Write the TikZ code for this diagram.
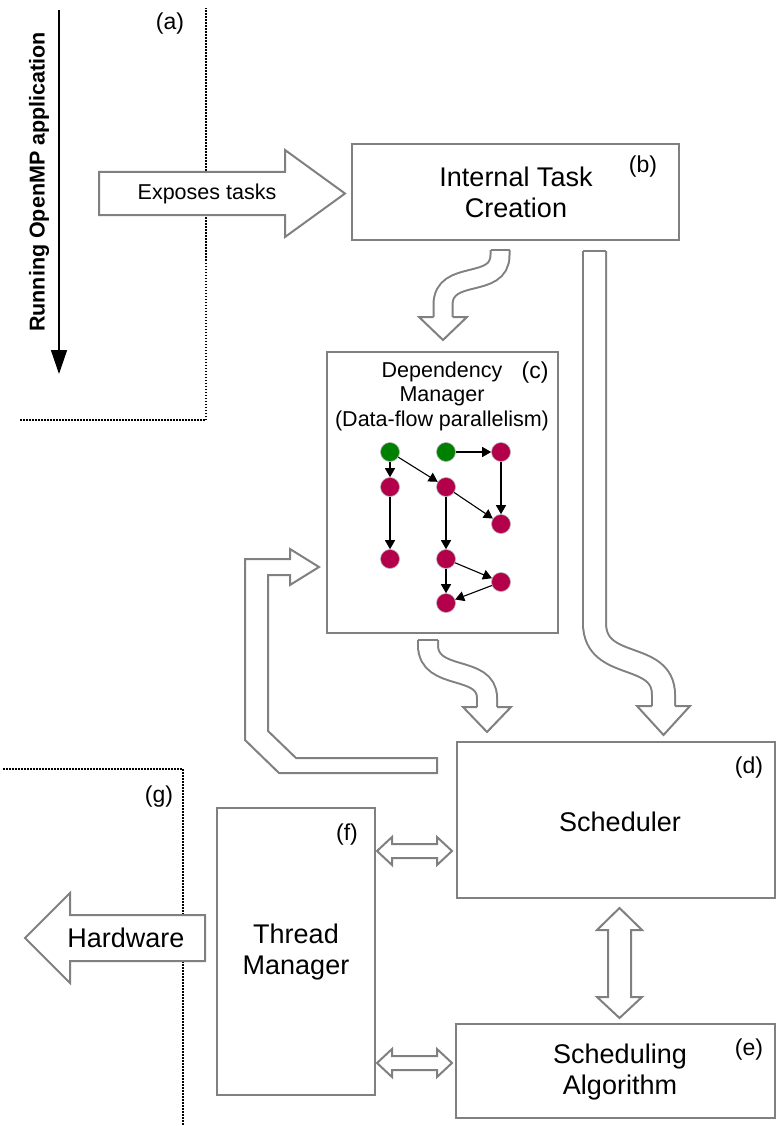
\documentclass[tikz,border=0pt]{standalone}
\usepackage{fontspec}
\setmainfont{Liberation Sans}
\usetikzlibrary{arrows.meta}
\definecolor{bord}{RGB}{128,128,128}
\definecolor{tgreen}{RGB}{0,128,0}
\definecolor{tred}{RGB}{180,0,75}
\begin{document}
\begin{tikzpicture}[x=1pt,y=-1pt,
  boxnode/.style={draw=bord, line width=2pt, fill=white, inner sep=0pt},
  fatarrow/.style={draw=bord, line width=2pt, fill=white, line join=miter},
  curvy/.style={draw=bord, line width=2pt, double=white, double distance=#1},
  gnode/.style={circle, inner sep=0pt, minimum size=19pt, draw=gray!60, line width=0.6pt},
  greennode/.style={gnode, fill=tgreen},
  rednode/.style={gnode, fill=tred},
  depedge/.style={-{Triangle[length=9pt,width=10pt]}, line width=1.1pt},
  bigtxt/.style={font=\fontsize{27}{31}\selectfont, align=center, inner sep=0pt},
  midtxt/.style={font=\fontsize{21.5}{24.5}\selectfont, align=center, inner sep=0pt},
  labtxt/.style={font=\fontsize{23}{26}\selectfont, inner sep=0pt},
  dotline/.style={dash pattern=on 1.5pt off 1.5pt, line width=1.6pt, line cap=butt}
]
\useasboundingbox (0,0) rectangle (776,1126);

% dotted separators
\draw[dotline] (20,420) -- (206,420) -- (206,8);
\draw[dotline] (3,769) -- (183,769) -- (183,1126);

% running application arrow
\coordinate (runtop) at (59,10);
\coordinate (runbot) at (59,374);
\draw[-{Triangle[length=24pt,width=16pt]}, line width=1.5pt] (runtop) -- (runbot);
\node[rotate=90, font=\bfseries\fontsize{21.5}{24}\selectfont, inner sep=0pt] (runlbl) at (39,182) {Running OpenMP application};
\node[labtxt] (la) at (170,24) {(a)};

% boxes
\node[boxnode, minimum width=327pt, minimum height=96pt] (b) at (515.5,192) {};
\node[boxnode, minimum width=231pt, minimum height=281pt] (c) at (442.5,492.5) {};
\node[boxnode, minimum width=318pt, minimum height=156pt] (d) at (616,820) {};
\node[boxnode, minimum width=319pt, minimum height=94pt] (e) at (615.5,1071) {};
\node[boxnode, minimum width=158pt, minimum height=287pt] (f) at (296,951.5) {};

% box texts
\node[bigtxt] (btxt) at (516,192) {Internal Task\\Creation};
\node[labtxt] (lb) at (643,167) {(b)};
\node[midtxt] (ctxt) at (442,396) {Dependency\\Manager\\(Data-flow parallelism)};
\node[labtxt] (lc) at (535,373) {(c)};
\node[bigtxt] (dtxt) at (620,822) {Scheduler};
\node[labtxt] (ld) at (749,768) {(d)};
\node[bigtxt] (etxt) at (620,1072) {Scheduling\\Algorithm};
\node[labtxt] (le) at (749,1050) {(e)};
\node[bigtxt] (ftxt) at (296,952) {Thread\\Manager};
\node[labtxt] (lf) at (347,835) {(f)};
\node[labtxt] (lg) at (159,797) {(g)};

% exposes tasks arrow
\draw[fatarrow] (99,172) -- (285,172) -- (285,150) -- (345,193.5) -- (285,237) -- (285,215) -- (99,215) -- cycle;
\node[font=\fontsize{21.5}{24}\selectfont, inner sep=0pt] (exp) at (207,193.5) {Exposes tasks};

% hardware arrow
\draw[fatarrow] (205,915) -- (70,915) -- (70,893) -- (25,938) -- (70,983) -- (70,961) -- (205,961) -- cycle;
\node[font=\fontsize{27}{31}\selectfont, inner sep=0pt] (hw) at (126,938) {Hardware};

% b -> c curved arrow
\draw[curvy=17pt] (500,250) -- (500,255) .. controls (500,290) and (443,268) .. (443,305) -- (443,317);
\draw[draw=bord, line width=2pt] (490.5,250) -- (509.5,250);
\filldraw[fill=white, draw=bord, line width=2pt, line join=miter] (433.5,317) -- (419,317) -- (443,340) -- (467,317) -- (452.5,317);

% c -> d curved arrow
\draw[curvy=18pt] (428,640) -- (428,645) .. controls (428,682) and (487,664) .. (487,698) -- (487,707);
\draw[draw=bord, line width=2pt] (418,640) -- (438,640);
\filldraw[fill=white, draw=bord, line width=2pt, line join=miter] (477,707) -- (463,707) -- (487,732) -- (511,707) -- (497,707);

% b -> d long arrow
\draw[curvy=21pt] (594.5,251) -- (594.5,623) .. controls (594.5,672) and (663.5,650) .. (663.5,695) -- (663.5,706);
\draw[draw=bord, line width=2pt] (583,251) -- (606,251);
\filldraw[fill=white, draw=bord, line width=2pt, line join=miter] (652,706) -- (637,706) -- (663.5,735) -- (690,706) -- (675,706);

% feedback arrow d -> c
\draw[fatarrow] (437,758) -- (296,758) -- (268,731) -- (268,575) -- (290,575) -- (290,585) -- (319,567) -- (290,549) -- (290,559) -- (245,559) -- (245,740) -- (279,773) -- (437,773) -- cycle;

% d <-> e
\draw[fatarrow] (619.5,908) -- (642,930) -- (631,930) -- (631,997) -- (642,997) -- (619.5,1018) -- (597,997) -- (608,997) -- (608,930) -- (597,930) -- cycle;

% f <-> d and f <-> e
\draw[fatarrow] (377,851) -- (392,837) -- (392,844) -- (437,844) -- (437,837) -- (452,851) -- (437,865) -- (437,858) -- (392,858) -- (392,865) -- cycle;
\draw[fatarrow] (377,1063) -- (392,1049) -- (392,1056) -- (437,1056) -- (437,1049) -- (452,1063) -- (437,1077) -- (437,1070) -- (392,1070) -- (392,1077) -- cycle;

% dependency graph
\node[greennode] (g1) at (390,452) {};
\node[greennode] (g2) at (446,452) {};
\node[rednode] (r1) at (501,452) {};
\node[rednode] (r2) at (390,487) {};
\node[rednode] (r3) at (446,487) {};
\node[rednode] (r4) at (501,524) {};
\node[rednode] (r5) at (390,559) {};
\node[rednode] (r6) at (446,559) {};
\node[rednode] (r7) at (501,582) {};
\node[rednode] (r8) at (446,603) {};
\draw[depedge] (g1) -- (r2);
\draw[depedge] (g1) -- (r3);
\draw[depedge] (g2) -- (r1);
\draw[depedge] (r1) -- (r4);
\draw[depedge] (r3) -- (r4);
\draw[depedge] (r2) -- (r5);
\draw[depedge] (r3) -- (r6);
\draw[depedge] (r6) -- (r7);
\draw[depedge] (r6) -- (r8);
\draw[depedge] (r7) -- (r8);
\end{tikzpicture}
\end{document}
